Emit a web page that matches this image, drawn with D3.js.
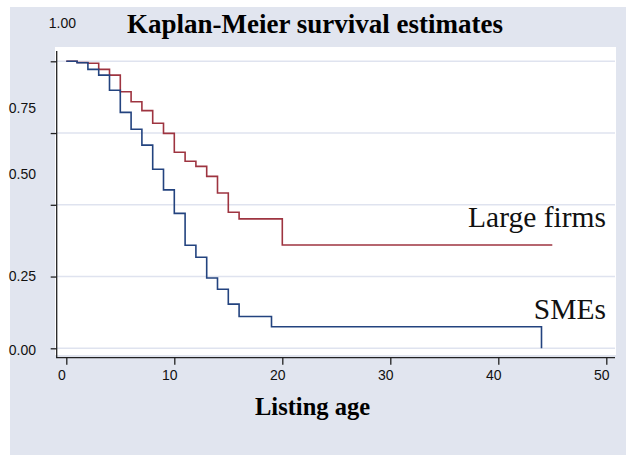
<!DOCTYPE html>
<html>
<head>
<meta charset="utf-8">
<script src="https://cdn.jsdelivr.net/npm/d3@7"></script>
<style>
  body { margin: 0; background: #fff; }
  svg text { font-family: "Liberation Sans", Arial, sans-serif; }
  .serif { font-family: "Liberation Serif", "Times New Roman", serif; }
</style>
</head>
<body>
<svg id="chart" width="626" height="455"></svg>
<script>
// survival step data
const largeTimes = [0, 1, 2, 3, 4, 5, 6, 7, 8, 9, 10, 11, 12, 13, 14, 15, 16, 20, 45];
const largeSurv  = [1.0, 0.996, 0.993, 0.972, 0.952, 0.894, 0.859, 0.828, 0.784, 0.749, 0.683, 0.652, 0.634, 0.599, 0.541, 0.474, 0.451, 0.36, 0.36];
const smeTimes = [0, 1, 2, 3, 4, 5, 6, 7, 8, 9, 10, 11, 12, 13, 14, 15, 16, 19, 44];
const smeSurv  = [1.0, 0.995, 0.972, 0.952, 0.899, 0.822, 0.763, 0.708, 0.624, 0.552, 0.47, 0.359, 0.317, 0.245, 0.206, 0.154, 0.111, 0.075, 0.0];
const xTicks = [0, 10, 20, 30, 40, 50];
const yTicks = [0, 0.25, 0.5, 0.75, 1];
const yTickLabels = ["0.00", "0.25", "0.50", "0.75", "1.00"];

const svg = d3.select('#chart');

// outer graph region
svg.append('rect').attr('x', 10).attr('y', 7).attr('width', 616).attr('height', 448)
  .attr('fill', '#e1e5ef');
// plot region
svg.append('rect').attr('x', 55).attr('y', 47).attr('width', 561).attr('height', 308)
  .attr('fill', '#fff');

const x = d3.scaleLinear().domain([0, 50]).range([66.3, 606.3]);
const y = d3.scaleLinear().domain([0, 1]).range([348.3, 61.3]);

// gridlines
svg.append('g').selectAll('line').data(yTicks).enter().append('line')
  .attr('x1', 57).attr('x2', 615)
  .attr('y1', d => y(d)).attr('y2', d => y(d))
  .attr('stroke', '#dfe3ef').attr('stroke-width', 1.5);

// y axis (ticks only; labels placed below)
const yAxis = svg.append('g').attr('transform', 'translate(56.7,0)')
  .call(d3.axisLeft(y).tickValues(yTicks).tickSize(6).tickFormat(''));
yAxis.select('.domain').attr('d', 'M0,51V358');
yAxis.selectAll('line, path').attr('stroke', '#222').attr('stroke-width', 1.3);

// the tick labels sit oddly in the original, so shift them the same way
const yLabelShift = [[0, 2], [0, 0], [0, -31], [0, -25], [40, -38]];
svg.append('g').selectAll('text').data(yTicks).enter().append('text')
  .attr('x', (d, i) => 36 + yLabelShift[i][0])
  .attr('y', (d, i) => y(d) + yLabelShift[i][1])
  .attr('dy', '0.35em')
  .attr('text-anchor', 'end')
  .attr('font-size', 14)
  .attr('fill', '#111')
  .text((d, i) => yTickLabels[i]);

// x axis
const xAxis = svg.append('g').attr('transform', 'translate(0,357.7)')
  .call(d3.axisBottom(x).tickValues(xTicks).tickSize(7).tickPadding(5));
xAxis.select('.domain').attr('d', 'M56,0H615');
xAxis.selectAll('line, path').attr('stroke', '#222').attr('stroke-width', 1.3);
xAxis.selectAll('text').attr('font-size', 14).attr('fill', '#111')
  .attr('font-family', '"Liberation Sans", Arial, sans-serif')
  .attr('dx', -5);

// step lines
const line = d3.line().x(d => x(d[0])).y(d => y(d[1])).curve(d3.curveStepAfter);

svg.append('path')
  .datum(largeTimes.map((t, i) => [t, largeSurv[i]]))
  .attr('d', line).attr('fill', 'none')
  .attr('stroke', '#9e3440').attr('stroke-width', 1.6);

svg.append('path')
  .datum(smeTimes.map((t, i) => [t, smeSurv[i]]))
  .attr('d', line).attr('fill', 'none')
  .attr('stroke', '#23437f').attr('stroke-width', 1.6);

// curve labels
svg.append('text').attr('class', 'serif')
  .attr('x', 606).attr('y', 226.5).attr('text-anchor', 'end')
  .attr('font-size', 29.5).attr('fill', '#111')
  .text('Large firms');
svg.append('text').attr('class', 'serif')
  .attr('x', 606).attr('y', 319).attr('text-anchor', 'end')
  .attr('font-size', 29.5).attr('fill', '#111')
  .text('SMEs');

// title and axis title
svg.append('text').attr('class', 'serif')
  .attr('x', 315).attr('y', 33.3).attr('text-anchor', 'middle')
  .attr('font-size', 27).attr('font-weight', 'bold').attr('fill', '#000')
  .text('Kaplan-Meier survival estimates');
svg.append('text').attr('class', 'serif')
  .attr('x', 312.5).attr('y', 415).attr('text-anchor', 'middle')
  .attr('font-size', 24.5).attr('font-weight', 'bold').attr('fill', '#000')
  .text('Listing age');
</script>
</body>
</html>
